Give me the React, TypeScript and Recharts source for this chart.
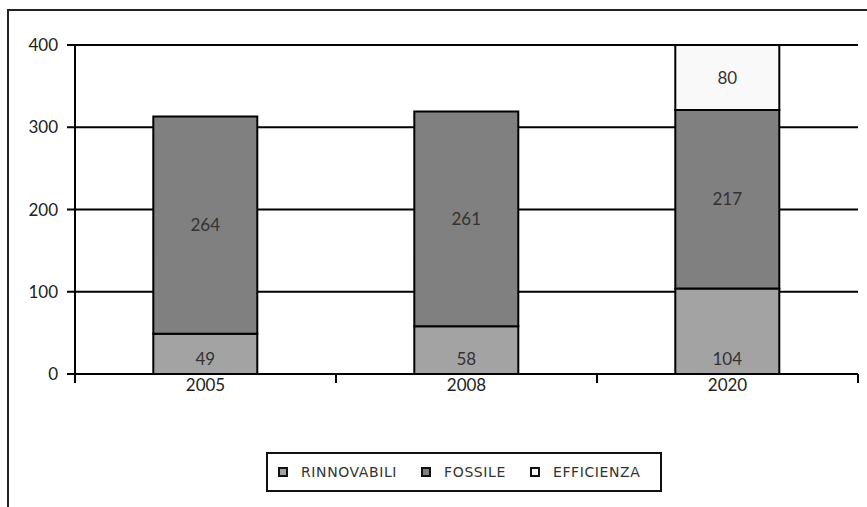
import { Bar, BarChart, CartesianGrid, LabelList, XAxis, YAxis } from "recharts";

const years = ["2005", "2008", "2020"];
const rinnovabili = [49, 58, 104];
const fossile = [264, 261, 217];
const efficienza = [0, 0, 80];
const yTicks = [0, 100, 200, 300, 400];
const xTicks = [0, 0.5, 1, 1.5, 2, 2.5, 3];

const series = [
  { key: "rinnovabili", name: "RINNOVABILI", color: "#a3a3a3" },
  { key: "fossile", name: "FOSSILE", color: "#808080" },
  { key: "efficienza", name: "EFFICIENZA", color: "#f9f9f9" },
];

const data = years.map((year, i) => ({
  year,
  idx: i + 0.5,
  rinnovabili: rinnovabili[i],
  fossile: fossile[i],
  efficienza: efficienza[i] || null,
}));

const font = "Lato, 'Open Sans', sans-serif";
const labelFont = { fontFamily: font, fontSize: 17, fill: "#333" };

// numeric axis: integer positions get a tick mark (category borders), halves get the year
function XTick({ x, y, payload }: any) {
  const v = payload.value;
  if (Number.isInteger(v)) {
    return <line x1={x} x2={x} y1={y} y2={y + 9} stroke="#000" strokeWidth={2} />;
  }
  return (
    <text x={x} y={y + 5} dy="0.71em" textAnchor="middle" fontFamily={font} fontSize={17} fill="#222">
      {years[Math.floor(v)]}
    </text>
  );
}

function LegendBox() {
  return (
    <div
      style={{
        position: "absolute",
        left: 266,
        top: 452,
        height: 36,
        boxSizing: "content-box",
        border: "2px solid #111",
        display: "inline-flex",
        alignItems: "center",
        gap: 24,
        padding: "0 20px 0 10px",
        fontFamily: "'DejaVu Sans', sans-serif",
        fontSize: 14,
        letterSpacing: 0.6,
        color: "#333",
        background: "#fff",
      }}
    >
      {series.map((s) => (
        <span key={s.key} style={{ display: "inline-flex", alignItems: "center", gap: 13 }}>
          <span style={{ width: 6, height: 6, background: s.color, border: "2px solid #111", display: "inline-block" }} />
          {s.name}
        </span>
      ))}
    </div>
  );
}

export default function App() {
  return (
    <div style={{ position: "absolute", left: 0, top: 0, width: 867, height: 507, overflow: "hidden", background: "#fff" }}>
      <div
        style={{
          position: "absolute",
          left: 7,
          top: 9,
          width: 900,
          height: 540,
          borderLeft: "2px solid #222",
          borderTop: "2px solid #222",
        }}
      />
      <BarChart
        width={867}
        height={507}
        data={data}
        margin={{ top: 45, right: 9, left: 0, bottom: 103 }}
        barCategoryGap="30%"
        style={{ position: "absolute", left: 0, top: 0 }}
      >
        <CartesianGrid vertical={false} stroke="#000" strokeWidth={2} />
        <XAxis dataKey="year" hide height={0} />
        <XAxis
          xAxisId="bounds"
          dataKey="idx"
          type="number"
          domain={[0, 3]}
          allowDataOverflow
          allowDecimals
          ticks={xTicks}
          interval={0}
          height={30}
          tickSize={0}
          tickMargin={0}
          tickLine={false}
          tick={<XTick />}
          axisLine={{ stroke: "#000", strokeWidth: 2 }}
        />
        <YAxis
          domain={[0, 400]}
          ticks={yTicks}
          allowDataOverflow
          width={75}
          tickSize={8}
          tickMargin={9}
          axisLine={{ stroke: "#000", strokeWidth: 2 }}
          tickLine={{ stroke: "#000", strokeWidth: 2 }}
          tick={{ fontFamily: font, fontSize: 17, fill: "#222" }}
        />
        <Bar dataKey="rinnovabili" name="RINNOVABILI" stackId="a" fill={series[0].color} stroke="#000" strokeWidth={2} isAnimationActive={false}>
          <LabelList dataKey="rinnovabili" position="insideBottom" offset={9} style={labelFont} />
        </Bar>
        <Bar dataKey="fossile" name="FOSSILE" stackId="a" fill={series[1].color} stroke="#000" strokeWidth={2} isAnimationActive={false}>
          <LabelList dataKey="fossile" position="center" style={labelFont} />
        </Bar>
        <Bar dataKey="efficienza" name="EFFICIENZA" stackId="a" fill={series[2].color} stroke="#000" strokeWidth={2} isAnimationActive={false}>
          <LabelList dataKey="efficienza" position="center" style={labelFont} />
        </Bar>
      </BarChart>
      <LegendBox />
    </div>
  );
}
